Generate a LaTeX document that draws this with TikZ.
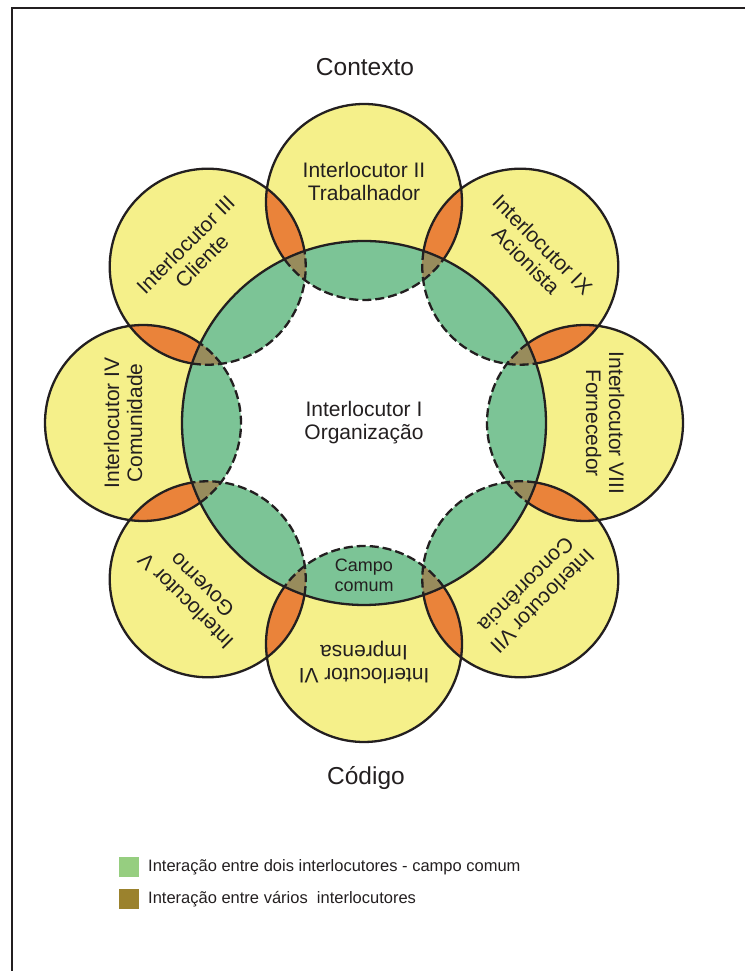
\documentclass[tikz,border=0pt]{standalone}
\usepackage{fontspec}
\setmainfont{Liberation Sans}
\definecolor{cyel}{RGB}{245,240,138}
\definecolor{cgreen}{RGB}{124,196,150}
\definecolor{corange}{RGB}{234,131,58}
\definecolor{colive}{RGB}{152,140,92}
\definecolor{lgreen}{RGB}{150,206,128}
\definecolor{lolive}{RGB}{155,130,45}
\definecolor{ink}{RGB}{35,31,32}
\begin{document}
\begin{tikzpicture}[x=1pt,y=1pt,
  ringline/.style={draw=ink,line width=2.3pt},
  dashline/.style={draw=ink,line width=2.3pt,dash pattern=on 9pt off 4pt},
  lab/.style={font=\fontsize{21}{23}\selectfont,align=center,text=ink,inner sep=0pt},
  title/.style={font=\fontsize{24.5}{28}\selectfont,text=ink},
  legtext/.style={font=\fontsize{16.5}{19}\selectfont,text=ink,anchor=west,inner sep=0pt}]
\useasboundingbox (0,0) rectangle (745,971);
% frame
\draw[ink,line width=2.4pt] (12,0) -- (12,963) -- (745,963);
\coordinate (C) at (364,548);
\foreach \n/\a in {2/90,9/45,8/0,7/-45,6/-90,5/-135,4/180,3/135}
  \path (C) ++(\a:221) coordinate (O\n);
% yellow circles
\foreach \n in {2,9,8,7,6,5,4,3}
  \fill[cyel] (O\n) circle (98);
% central circle
\fill[white] (C) circle (182);
\begin{scope}
  \clip (C) circle (182);
  \foreach \n in {2,9,8,7,6,5,4,3}
    \fill[cgreen] (O\n) circle (98);
\end{scope}
% orange lenses
\foreach \p/\q in {2/9,9/8,8/7,7/6,6/5,5/4,4/3,3/2}{
  \begin{scope}
    \clip (O\p) circle (98);
    \fill[corange] (O\q) circle (98);
  \end{scope}}
% olive triple zones
\begin{scope}
  \clip (C) circle (182);
  \foreach \p/\q in {2/9,9/8,8/7,7/6,6/5,5/4,4/3,3/2}{
    \begin{scope}
      \clip (O\p) circle (98);
      \fill[colive] (O\q) circle (98);
    \end{scope}}
\end{scope}
% outlines
\foreach \n/\a in {2/90,9/45,8/0,7/-45,6/-90,5/-135,4/180,3/135}{
  \draw[ringline] (O\n) ++(\a-125.78:98) arc[start angle=\a-125.78, end angle=\a+125.78, radius=98];
  \draw[dashline] (O\n) ++(\a+125.78:98) arc[start angle=\a+125.78, end angle=\a+234.22, radius=98];
}
\draw[ringline] (C) circle (182);
% labels
\node[lab] (L1) at (C) {Interlocutor I\\Organização};
\path (O2) ++(90:20) node[lab,rotate=0] (L2) {Interlocutor II\\Trabalhador};
\path (O9) ++(45:20) node[lab,rotate=-45] (L9) {Interlocutor IX\\Acionista};
\path (O8) ++(0:20) node[lab,rotate=-90] (L8) {Interlocutor VIII\\Fornecedor};
\path (O7) ++(-45:20) node[lab,rotate=-135] (L7) {Interlocutor VII\\Concorrência};
\path (O6) ++(-90:18) node[lab,rotate=180] (L6) {Interlocutor VI\\Imprensa};
\path (O5) ++(-135:20) node[lab,rotate=135] (L5) {Interlocutor V\\Governo};
\path (O4) ++(180:20) node[lab,rotate=90] (L4) {Interlocutor IV\\Comunidade};
\path (O3) ++(135:20) node[lab,rotate=45] (L3) {Interlocutor III\\Cliente};
\node[lab,font=\fontsize{18}{20}\selectfont] (CC) at (364,396) {Campo\\comum};
\node[title] (ctx) at (365,904) {Contexto};
\node[title] (cod) at (366,193) {Código};
% legend
\fill[lgreen] (119,94) rectangle (139,114);
\fill[lolive] (119,62) rectangle (139,82);
\node[legtext] (lg1) at (148,104) {Interação entre dois interlocutores - campo comum};
\node[legtext] (lg2) at (148,72) {Interação entre vários~ interlocutores};
\end{tikzpicture}
\end{document}
